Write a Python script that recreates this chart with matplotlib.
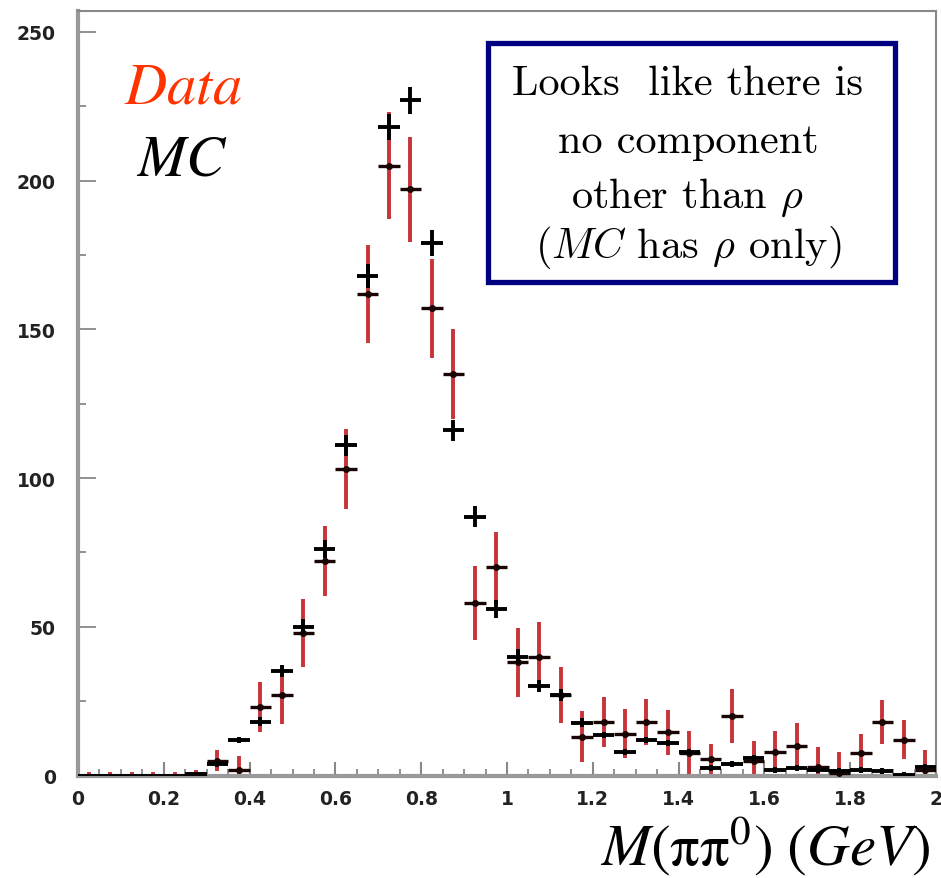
import numpy as np
import matplotlib
matplotlib.use("Agg")
import matplotlib.pyplot as plt
from matplotlib.patches import Rectangle

# bin centres of M(pi pi0), 0.05 GeV bins
mass = [0.025, 0.075, 0.125, 0.175, 0.225, 0.275, 0.325, 0.375, 0.425, 0.475,
        0.525, 0.575, 0.625, 0.675, 0.725, 0.775, 0.825, 0.875, 0.925, 0.975,
        1.025, 1.075, 1.125, 1.175, 1.225, 1.275, 1.325, 1.375, 1.425, 1.475,
        1.525, 1.575, 1.625, 1.675, 1.725, 1.775, 1.825, 1.875, 1.925, 1.975]
data = [0, 0, 0, 0, 0, 0, 5, 2, 23, 27,
        48, 72, 103, 162, 205, 197, 157, 135, 58, 70,
        38, 40, 27, 13, 18, 14, 18, 14.5, 7.5, 5.5,
        20, 5, 8, 10, 3, 1, 7.5, 18, 12, 2]
data_err = [1.2, 1.2, 1.2, 1.2, 1.2, 2, 3.5, 4.5, 8.5, 9.8,
            11.5, 11.8, 13.5, 16.5, 18, 17.8, 16.5, 15, 12.5, 12,
            11.5, 11.7, 9.5, 8.6, 8.5, 8.2, 7.6, 7.6, 7.5, 5,
            9.2, 6.5, 7, 7.5, 6.6, 7, 6.5, 7.3, 6.5, 6.5]
mc = [0, 0, 0, 0, 0, 0.5, 4, 12, 18, 35,
      50, 76, 111, 168, 218, 227, 179, 116, 87, 56,
      40, 30, 27, 17.7, 13.7, 8, 12, 11, 8, 2.5,
      4, 6, 2, 2.5, 2, 1.5, 2, 1.5, 0.3, 3]
mc_err = [0, 0, 0, 0, 0, 0, 1, 1, 1.5, 2,
          2.5, 3, 3.5, 4, 4.5, 4.5, 4.5, 3.5, 3.5, 3,
          2.5, 2, 2, 1.5, 1, 1, 1, 1, 1, 1,
          1, 1, 1, 1, 1, 1, 1, 1, 1, 1]
bin_w = 0.05

red = "#c8343a"

fig = plt.figure(figsize=(9.41, 8.79), dpi=100)
ax = fig.add_axes([78 / 941, 1 - 776.5 / 879, 858 / 941, 764.5 / 879])

x = np.array(mass)
d = np.array(data)
m = np.array(mc)

# data: red vertical error bars, bin-width horizontal marks
ax.errorbar(x, d, yerr=data_err, fmt="none", ecolor=red, elinewidth=2.8, zorder=2)
hcol = [red if v == 0 else "#1a0505" for v in data]
ax.hlines(d, x - bin_w / 2, x + bin_w / 2, colors=hcol, linewidth=2.4, zorder=3)
nz = d > 0
ax.plot(x[nz], d[nz], "o", color="#1a0505", markersize=4, zorder=4)

# MC: black crosses
ax.errorbar(x, m, xerr=bin_w / 2, yerr=mc_err, fmt="none", ecolor="black",
            elinewidth=2.8, zorder=5)

ax.set_xlim(0, 2)
ax.set_ylim(0, 257)
ax.set_xticks([0, 0.2, 0.4, 0.6, 0.8, 1.0, 1.2, 1.4, 1.6, 1.8, 2.0])
ax.set_xticklabels(["0", "0.2", "0.4", "0.6", "0.8", "1", "1.2", "1.4", "1.6", "1.8", "2"])
ax.set_xticks(np.arange(0, 2.001, 0.05), minor=True)
ax.set_yticks([0, 50, 100, 150, 200, 250])
ax.set_yticks(np.arange(0, 257, 25), minor=True)

ax.tick_params(axis="both", which="both", direction="in", colors="#888888",
               labelcolor="#222222", top=False, right=False)
ax.tick_params(axis="y", which="major", length=13, width=1.3, pad=16)
ax.tick_params(axis="y", which="minor", length=6, width=1.3)
ax.tick_params(axis="x", which="major", length=10, width=1.5, pad=10)
ax.tick_params(axis="x", which="minor", length=5, width=1.3)
for lab in ax.get_xticklabels() + ax.get_yticklabels():
    lab.set_fontweight("bold")
    lab.set_fontsize(13.5)

for s in ["left", "bottom"]:
    ax.spines[s].set_color("#999999")
    ax.spines[s].set_linewidth(3)
for s in ["top", "right"]:
    ax.spines[s].set_color("#888888")
    ax.spines[s].set_linewidth(1.5)

# Times-like italic labels via STIX mathtext
fig.text(124 / 941, 1 - 103 / 879, r"$\mathit{Data}$", color="#ff3300", fontsize=42,
         math_fontfamily="stix", ha="left", va="baseline")
fig.text(136 / 941, 1 - 176 / 879, r"$\mathit{MC}$", color="black", fontsize=42,
         math_fontfamily="stix", ha="left", va="baseline")
fig.text(930 / 941, 1 - 866 / 879,
         r"$\mathit{M}(\mathrm{\pi\pi}^{\mathit{0}})\ (\mathit{GeV})$",
         color="black", fontsize=42.5, math_fontfamily="stix",
         ha="right", va="baseline")

# note box
fig.patches.append(Rectangle((488 / 941, 1 - 283 / 879), 407 / 941, 239 / 879,
                             transform=fig.transFigure, fill=False,
                             edgecolor="#000080", linewidth=3.8, zorder=10))
box_lines = ["Looks  like there is", "no component",
             r"other than $\rho$ ", r"($MC$ has $\rho$ only)"]
baselines = [95, 153, 208, 258]
for txt, yb in zip(box_lines, baselines):
    fig.text(688 / 941, 1 - yb / 879, txt, fontsize=30.5, family="cmr10",
             math_fontfamily="cm", ha="center", va="baseline", color="black")

fig.savefig("out.png", dpi=100)
